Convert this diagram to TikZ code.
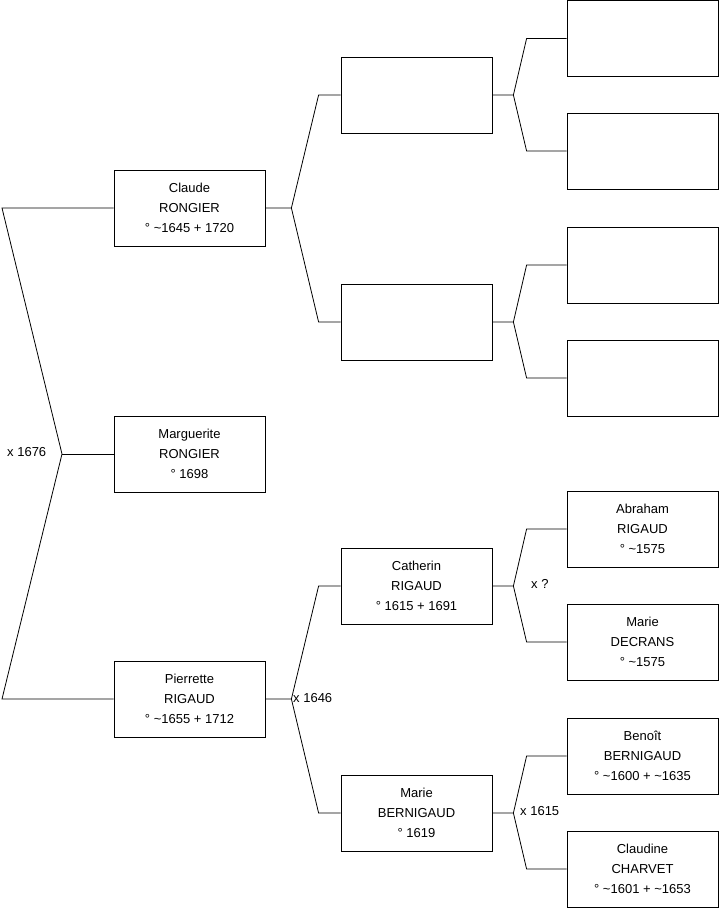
\documentclass[tikz,border=0pt]{standalone}
\usepackage{fontspec}
\setmainfont{Liberation Sans}
\newcommand{\env}{\textasciitilde}
\tikzset{
  person/.style={draw, line width=0.8pt, minimum width=151pt, minimum height=76pt, inner sep=0pt, align=center, font=\fontsize{13}{20}\selectfont},
  mariage/.style={font=\fontsize{13}{16}\selectfont, inner sep=0pt, anchor=west},
  lien/.style={line width=0.8pt}
}
\begin{document}
\begin{tikzpicture}[x=1pt,y=-1pt]
\useasboundingbox (0,0) rectangle (719,908);
\node[person] (claude) at (189.5,208) {Claude\\RONGIER\\° \env1645 + 1720};
\node[person] (marguerite) at (189.5,454) {Marguerite\\RONGIER\\° 1698};
\node[person] (pierrette) at (189.5,699) {Pierrette\\RIGAUD\\° \env1655 + 1712};
\node[person] (pereC) at (416.5,95) {};
\node[person] (mereC) at (416.5,322) {};
\node[person] (catherin) at (416.5,586) {Catherin\\RIGAUD\\° 1615 + 1691};
\node[person] (marie) at (416.5,813) {Marie\\BERNIGAUD\\° 1619};
\node[person] (gpA) at (642.5,38.5) {};
\node[person] (gmA) at (642.5,151) {};
\node[person] (gpB) at (642.5,265) {};
\node[person] (gmB) at (642.5,378) {};
\node[person] (abraham) at (642.5,529) {Abraham\\RIGAUD\\° \env1575};
\node[person] (decrans) at (642.5,642) {Marie\\DECRANS\\° \env1575};
\node[person] (benoit) at (642.5,756) {Benoît\\BERNIGAUD\\° \env1600 + \env1635};
\node[person] (charvet) at (642.5,869) {Claudine\\CHARVET\\° \env1601 + \env1653};
\coordinate (haut) at (2,208);
\coordinate (union) at (62,454);
\coordinate (bas) at (2,699);
\draw[lien] (claude.west) -- (haut) -- (union) -- (bas) -- (pierrette.west);
\draw[lien] (union) -- (marguerite.west);
\foreach \p/\u/\l in {claude/pereC/mereC, pierrette/catherin/marie}
  \draw[lien] (\u.west) -- ++(-22,0) -- ([xshift=26pt]\p.east) -- ([xshift=-22pt]\l.west) -- (\l.west)
    (\p.east) -- ([xshift=26pt]\p.east);
\foreach \p/\u/\l in {pereC/gpA/gmA, mereC/gpB/gmB, catherin/abraham/decrans, marie/benoit/charvet}
  \draw[lien] (\u.west) -- ++(-40,0) -- ([xshift=21pt]\p.east) -- ([xshift=-40pt]\l.west) -- (\l.west)
    (\p.east) -- ([xshift=21pt]\p.east);
\node[mariage] (m1676) at (7,452) {x 1676};
\node[mariage] (m1646) at (293,698) {x 1646};
\node[mariage] (minconnu) at (531,584) {x ?};
\node[mariage] (m1615) at (520,811) {x 1615};
\end{tikzpicture}
\end{document}
